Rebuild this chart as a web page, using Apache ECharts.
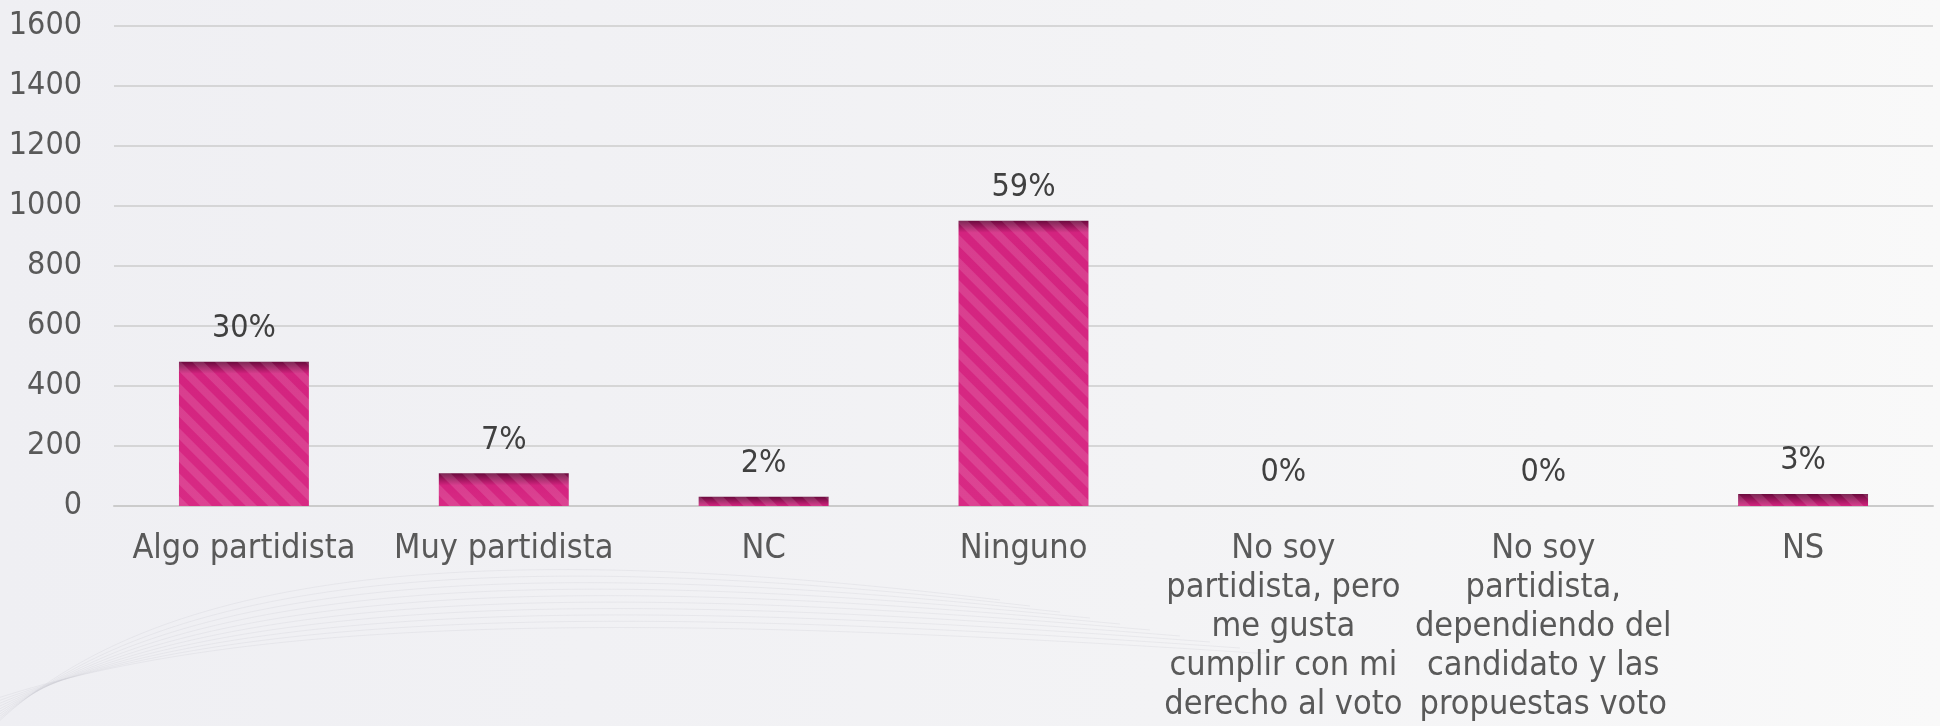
<!DOCTYPE html>
<html>
<head>
<meta charset="utf-8">
<title>Partidismo</title>
<script src="https://cdn.jsdelivr.net/npm/echarts@6/dist/echarts.min.js"></script>
<style>
    html, body { margin: 0; padding: 0; }
    #main { width: 1940px; height: 726px; }
</style>
</head>
<body>
<div id="main"></div>
<script>
// datos
var categorias = [
    'Algo partidista',
    'Muy partidista',
    'NC',
    'Ninguno',
    'No soy\npartidista, pero\nme gusta\ncumplir con mi\nderecho al voto',
    'No soy\npartidista,\ndependiendo del\ncandidato y las\npropuestas voto',
    'NS'
];
var valores = [481, 109, 31, 951, 0, 0, 40];
var porcentajes = ['30%', '7%', '2%', '59%', '0%', '0%', '3%'];
var yMax = 1600;
var yPaso = 200;

var fuente = "'DejaVu Sans Condensed', 'DejaVu Sans', sans-serif";
var altoPlot = 480;

/**
 * color de cada barra: sombra interior oscura en la parte alta
 */
function colorBarra (params) {
    var h = params.value / yMax * altoPlot;
    var borde = h > 0 ? Math.min(1, 12 / h) : 1;
    return new echarts.graphic.LinearGradient(0, 0, 0, 1, [
        {offset: 0, color: '#6a0b3d'},
        {offset: borde, color: '#d3237f'},
        {offset: 1, color: '#d82a84'}
    ]);
}

/**
 * curvas tenues del fondo (decorativas)
 */
function curvasFondo () {
    var lista = [];
    for (var i = 0; i < 10; i++) {
        lista.push({
            type: 'bezierCurve',
            silent: true,
            z: -9,
            shape: {
                x1: -20, y1: 740 - i * 4,
                cpx1: 150 + i * 10, cpy1: 560 + i * 6,
                cpx2: 500 + i * 15, cpy2: 540 + i * 8,
                x2: 1000 + i * 30, y2: 600 + i * 6
            },
            style: {fill: null, stroke: 'rgba(200,200,206,0.25)', lineWidth: 1}
        });
    }
    return lista;
}

var chart = echarts.init(document.getElementById('main'));
var option = {
    backgroundColor: new echarts.graphic.LinearGradient(0, 0, 1, 0, [
        {offset: 0, color: '#efeff3'},
        {offset: 0.6, color: '#f3f3f5'},
        {offset: 1, color: '#f9f9f9'}
    ]),
    animation: false,
    graphic: curvasFondo(),
    grid: {
        left: 114,
        right: 7,
        top: 26,
        bottom: 220,
        containLabel: false,
        outerBoundsMode: 'none'
    },
    xAxis: {
        type: 'category',
        data: categorias,
        axisTick: {show: false},
        axisLine: {lineStyle: {color: '#cbcbcb', width: 2}},
        axisLabel: {
            interval: 0,
            margin: 24,
            color: '#595959',
            fontFamily: fuente,
            fontSize: 34,
            lineHeight: 39
        }
    },
    yAxis: {
        type: 'value',
        min: 0,
        max: yMax,
        interval: yPaso,
        axisLine: {show: false},
        axisTick: {show: false},
        axisLabel: {
            margin: 32,
            color: '#595959',
            fontFamily: fuente,
            fontSize: 32,
            formatter: function (v) {
                return String(v);
            }
        },
        splitLine: {lineStyle: {color: '#cdcdcd', width: 1.6}}
    },
    series: [
        {
            type: 'bar',
            data: valores,
            barWidth: '50%',
            itemStyle: {
                color: colorBarra,
                decal: {
                    symbol: 'rect',
                    symbolSize: 1,
                    dashArrayX: [1, 0],
                    dashArrayY: [8, 8],
                    rotation: Math.PI / 4,
                    color: 'rgba(255,255,255,0.12)'
                }
            },
            label: {
                show: true,
                position: 'top',
                distance: 17,
                color: '#404040',
                fontFamily: fuente,
                fontSize: 32,
                formatter: function (p) {
                    return porcentajes[p.dataIndex];
                }
            }
        }
    ]
};
chart.setOption(option);
</script>
</body>
</html>
